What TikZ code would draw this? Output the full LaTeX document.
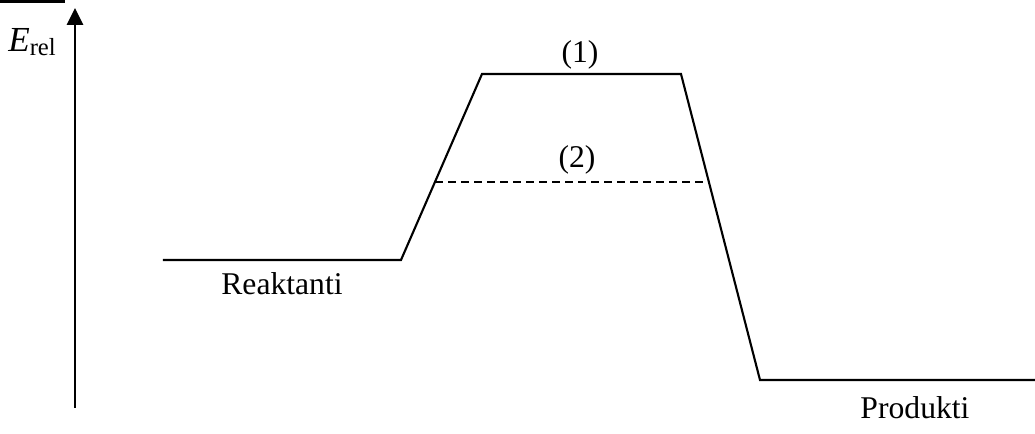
\documentclass[tikz,border=0pt]{standalone}
\usepackage{fontspec}
\setmainfont{Liberation Serif}
\usepackage{tikz}
\usetikzlibrary{arrows.meta}

\begin{document}
\begin{tikzpicture}[x=0.01cm,y=-0.01cm,line width=0.6pt,
    lbl/.style={inner sep=0pt,font=\fontsize{9}{11}\selectfont}]
    \useasboundingbox (0,0) rectangle (1035,434);
    \draw[line width=1pt] (0,1.5)--(65,1.5);
    \coordinate (ax0) at (75,408);
    \coordinate (ax1) at (75,8);
    \draw [-{Triangle[length=4.8pt,width=4.6pt]}] (ax0)--(ax1);
    \node[lbl] (erel) at (32,42) {{\fontsize{10}{12}\selectfont\textit{E}}\raisebox{-0.3ex}{\fontsize{7}{8}\selectfont rel}};
    \coordinate (r0) at (163,260);
    \coordinate (r1) at (401,260);
    \coordinate (t0) at (482,74);
    \coordinate (t1) at (681,74);
    \coordinate (p0) at (760,380);
    \coordinate (p1) at (1035,380);
    \draw (r0)--(r1)--(t0)--(t1)--(p0)--(p1);
    \coordinate (d0) at (435,182);
    \coordinate (d1) at (709,182);
    \draw[dash pattern=on 2.3pt off 1.4pt] (d0)--(d1);
    \node[lbl] (n1) at (580,55) {(1)};
    \node[lbl] (n2) at (577,160) {(2)};
    \node[lbl] (reak) at (282,284) {Reaktanti};
    \node[lbl] (prod) at (915,408) {Produkti};
\end{tikzpicture}
\end{document}
